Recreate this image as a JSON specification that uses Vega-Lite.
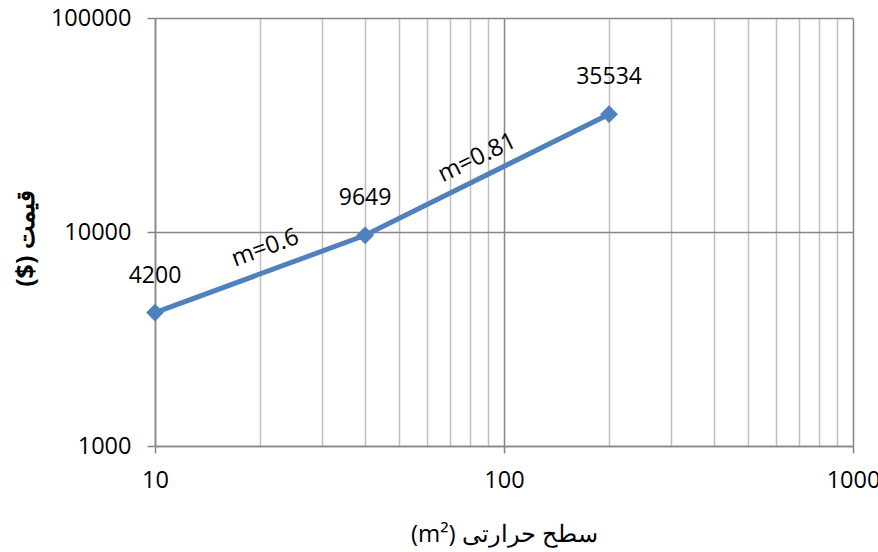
{
  "$schema": "https://vega.github.io/schema/vega-lite/v6.json",
  "width": 698,
  "height": 428,
  "autosize": {"type": "none"},
  "padding": {"left": 155, "top": 18, "right": 25, "bottom": 106},
  "background": "white",
  "config": {
    "view": {"stroke": null},
    "font": "Open Sans",
    "axis": {"labelFont": "Open Sans", "titleFont": "Open Sans", "labelColor": "black", "titleColor": "black"}
  },
  "datasets": {
    "pts": [
      {"area": 10, "cost": 4200},
      {"area": 40, "cost": 9649},
      {"area": 200, "cost": 35534}
    ]
  },
  "layer": [
    {
      "data": {"name": "pts"},
      "mark": {"type": "line", "color": "#4F81BD", "strokeWidth": 5, "clip": false},
      "encoding": {
        "x": {
          "field": "area", "type": "quantitative",
          "scale": {"type": "log", "domain": [10, 1000], "nice": false},
          "axis": {
            "values": [10, 20, 30, 40, 50, 60, 70, 80, 90, 100, 200, 300, 400, 500, 600, 700, 800, 900, 1000],
            "format": "d",
            "labelExpr": "(datum.value == 10 || datum.value == 100 || datum.value == 1000) ? datum.label : ''",
            "labelFontSize": 23.5,
            "labelPadding": 15,
            "labelFlush": false,
            "labelOverlap": false,
            "tickSize": 7,
            "tickColor": "#868686",
            "tickWidth": 1.5,
            "tickOpacity": {"condition": {"test": "datum.value == 10 || datum.value == 100 || datum.value == 1000", "value": 1}, "value": 0},
            "domainColor": "#868686",
            "domainWidth": 1.5,
            "grid": true,
            "gridColor": {"condition": {"test": "datum.value == 10 || datum.value == 100 || datum.value == 1000", "value": "#868686"}, "value": "#BFBFBF"},
            "gridWidth": 1.5,
            "title": "\u202Bسطح حرارتی (m²)\u202C",
            "titleFontSize": 24,
            "titleFontWeight": "normal",
            "titlePadding": 31
          }
        },
        "y": {
          "field": "cost", "type": "quantitative",
          "scale": {"type": "log", "domain": [1000, 100000], "nice": false},
          "axis": {
            "values": [1000, 10000, 100000],
            "format": "d",
            "labelFontSize": 23.5,
            "labelPadding": 16,
            "tickSize": 8,
            "tickColor": "#868686",
            "tickWidth": 1.5,
            "domainColor": "#868686",
            "domainWidth": 1.5,
            "grid": true,
            "gridColor": "#868686",
            "gridWidth": 1.5,
            "title": "\u202Bقیمت ($)\u202C",
            "titleFontSize": 25,
            "titleFontWeight": "bold",
            "titlePadding": 12,
            "titleY": 220
          }
        }
      }
    },
    {
      "data": {"name": "pts"},
      "mark": {"type": "point", "shape": "diamond", "filled": true, "color": "#4F81BD", "size": 320, "opacity": 1, "clip": false},
      "encoding": {
        "x": {"field": "area", "type": "quantitative"},
        "y": {"field": "cost", "type": "quantitative"}
      }
    },
    {
      "data": {"name": "pts"},
      "mark": {"type": "text", "fontSize": 23, "dy": -37, "baseline": "middle", "align": "center", "color": "black"},
      "encoding": {
        "x": {"field": "area", "type": "quantitative"},
        "y": {"field": "cost", "type": "quantitative"},
        "text": {"field": "cost", "type": "quantitative", "format": "d"}
      }
    },
    {
      "data": {"values": [{"area": 20.7, "cost": 8400, "label": "m=0.6"}]},
      "mark": {"type": "text", "fontSize": 24, "angle": -20, "baseline": "middle", "align": "center", "color": "black"},
      "encoding": {
        "x": {"field": "area", "type": "quantitative"},
        "y": {"field": "cost", "type": "quantitative"},
        "text": {"field": "label"}
      }
    },
    {
      "data": {"values": [{"area": 83.8, "cost": 22200, "label": "m=0.81"}]},
      "mark": {"type": "text", "fontSize": 24, "angle": -26, "baseline": "middle", "align": "center", "color": "black"},
      "encoding": {
        "x": {"field": "area", "type": "quantitative"},
        "y": {"field": "cost", "type": "quantitative"},
        "text": {"field": "label"}
      }
    }
  ]
}
